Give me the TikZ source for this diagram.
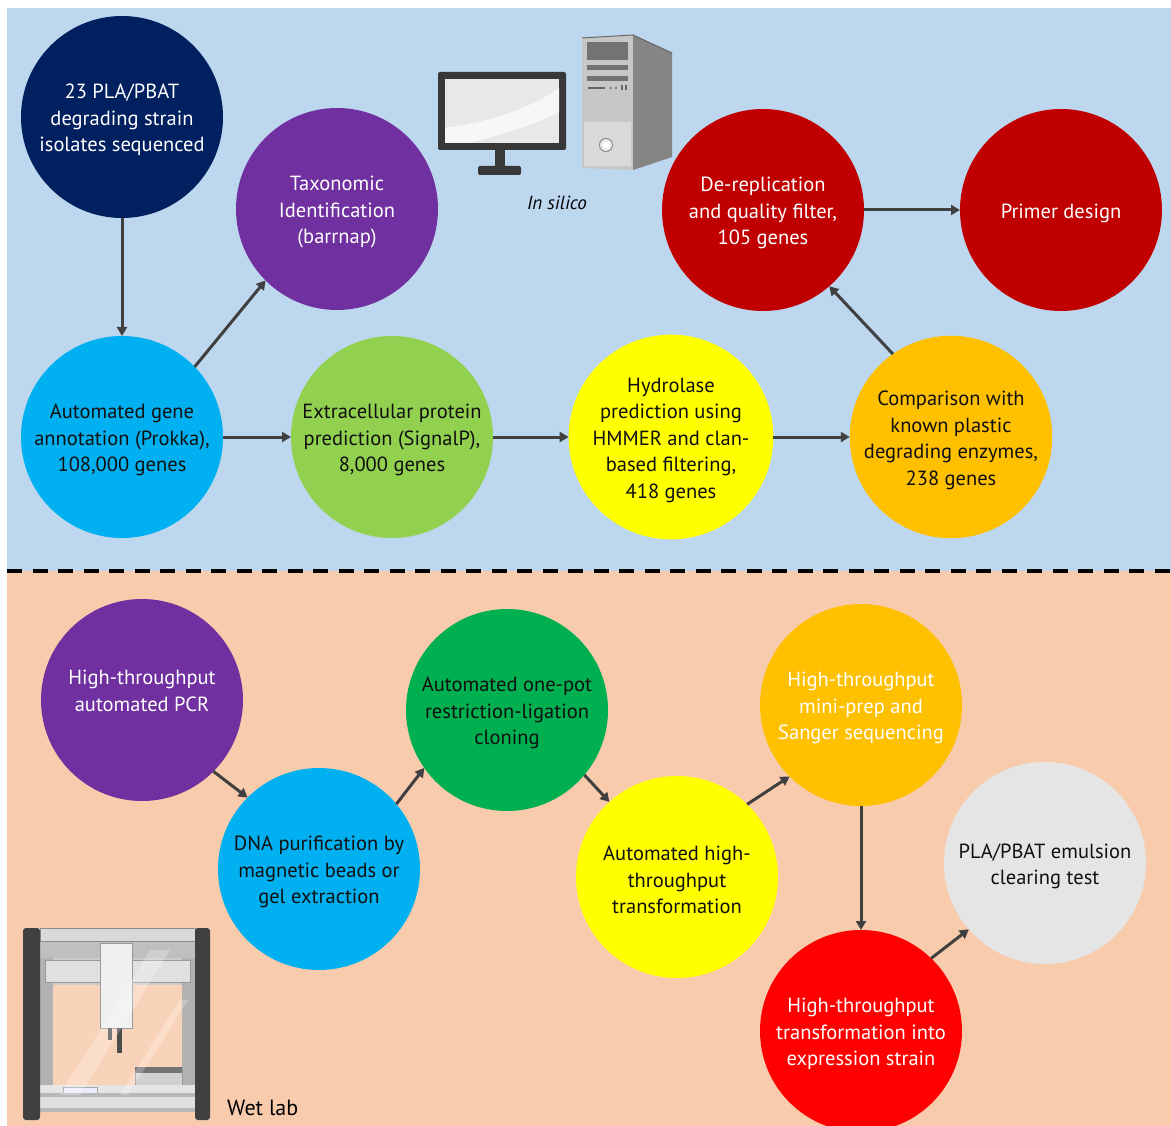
\documentclass[tikz,border=0pt]{standalone}
\usepackage{fontspec}
\setmainfont{PT Sans}
\usetikzlibrary{arrows.meta}

\definecolor{silicobg}{HTML}{BDD7EE}
\definecolor{wetbg}{HTML}{F8CBAD}
\definecolor{navy}{HTML}{002060}
\definecolor{violet}{HTML}{7030A0}
\definecolor{sky}{HTML}{00B0F0}
\definecolor{lime}{HTML}{92D050}
\definecolor{lemon}{HTML}{FFFF00}
\definecolor{amber}{HTML}{FFC000}
\definecolor{crimson}{HTML}{C00000}
\definecolor{emerald}{HTML}{00B050}
\definecolor{scarlet}{HTML}{FF0000}
\definecolor{pale}{HTML}{E5E5E5}
\definecolor{arrowc}{HTML}{404040}
\definecolor{ink}{HTML}{101010}

% invisible strut that lowers a centred text block slightly
\newcommand\stagetop{\rule{0pt}{21pt}}

\begin{document}
\begin{tikzpicture}[x=1pt,y=-1pt,
  stage/.style={circle, minimum size=202pt, inner sep=0pt, outer sep=0pt,
                align=center, font=\fontsize{20.5}{26.5}\selectfont, text=ink},
  caption/.style={align=center, inner sep=0pt, font=\fontsize{20.5}{26.5}\selectfont},
  flow/.style={draw=arrowc, line width=3pt, -{Triangle[length=9pt,width=10pt]}},
  divider/.style={draw=black, line width=4pt, dash pattern=on 15pt off 10.5pt},
]
\useasboundingbox (0,0) rectangle (1171,1126);
\clip (0,0) rectangle (1171,1126);

% background panels
\fill[white] (0,0) rectangle (1171,1126);
\fill[silicobg] (7,8) rectangle (1171,571);
\fill[wetbg] (7,571) rectangle (1171,1126);
\draw[divider] (7,571) -- (1171,571);

% ---------- computer ----------
\fill[black!78, rounded corners=2pt] (438,72) rectangle (566,150);
\fill[black!9] (445,79) rectangle (559,143);
\fill[white!97!black] (445,143) -- (445,128) .. controls (500,120) and (535,105) .. (559,88)
      -- (559,112) .. controls (535,125) and (500,135) .. (470,143) -- cycle;
\fill[black!78] (495,150) rectangle (505,166);
\fill[black!78, rounded corners=2pt] (478,166) rectangle (521,175);
% tower
\fill[black!22] (582,38) -- (633,35) -- (633,170) -- (582,168) -- cycle;
\fill[black!48] (633,35) -- (672,53) -- (672,157) -- (633,170) -- cycle;
\draw[black!60, line width=1pt] (582,38) -- (633,35) -- (672,53);
\fill[black!55] (587,42) rectangle (628,60);
\fill[black!55] (587,65) rectangle (628,70);
\fill[black!55] (587,76) rectangle (628,81);
\fill[black!60] (588,87.5) rectangle (605,89);
\fill[black!60] (611,88) circle (1.2pt);
\fill[black!60] (616,88) circle (1.2pt);
\fill[black!60] (621,85.5) rectangle (622.5,90.5);
\fill[black!60] (625,85.5) rectangle (626.5,90.5);
\fill[black!15] (584,122) rectangle (631,166);
\filldraw[fill=black!7, draw=black!45, line width=1pt] (606,145) circle (6.5pt);
\fill[white] (606,145) circle (3pt);
\node[caption, font=\fontsize{19}{26.5}\selectfont\itshape] (silico) at (557,203) {In silico};

% ---------- liquid-handling robot ----------
\fill[black!20] (40,940) rectangle (195,1095);
\fill[wetbg!85!white] (53,985) rectangle (182,1085);
\fill[black!30] (40,940) rectangle (53,1095);
\fill[black!30] (182,940) rectangle (195,1095);
\fill[black!25] (40,942) rectangle (195,958);
\fill[black!12] (45,960) rectangle (190,982);
\draw[black!40, line width=0.8pt] (45,960) rectangle (190,982);
\fill[black!18, draw=black!40, line width=0.8pt] (135,1067) rectangle (182,1093);
\fill[black!55] (135,1067) rectangle (182,1073);
\fill[black!10] (40,1085) rectangle (195,1093);
\fill[blue!8!white, draw=black!35, line width=0.6pt] (63,1087) rectangle (97,1100);
\fill[black!55] (100,1093) rectangle (133,1098);
\fill[black!28] (40,1093) rectangle (195,1112);
\fill[black!12] (40,1097) rectangle (195,1108);
\fill[black!6, draw=black!40, line width=0.8pt] (100,943) rectangle (132,1028);
\fill[black!70] (108,1028) rectangle (112,1040);
\fill[black!70] (117,1028) rectangle (122,1053);
\fill[black!15, draw=black!45, line width=0.8pt] (40,928) rectangle (195,941);
\fill[black!75, rounded corners=3pt] (23,928) rectangle (40,1120);
\fill[black!75, rounded corners=3pt] (195,928) rectangle (210,1120);
\fill[white, opacity=0.25] (60,1095) -- (150,950) -- (170,950) -- (80,1095) -- cycle;
\fill[white, opacity=0.25] (120,1095) -- (180,1000) -- (188,1000) -- (128,1095) -- cycle;
\node[caption, anchor=west, font=\fontsize{22}{26.5}\selectfont] (wetlab) at (227,1108) {Wet lab};

% ---------- in silico pipeline ----------
\node[stage, fill=navy, text=white] (seqd) at (122,117)
  {\stagetop 23 PLA/PBAT\\degrading strain\\isolates sequenced};
\node[stage, fill=violet, text=white] (tax) at (337,209)
  {\stagetop Taxonomic\\Identification\\(barrnap)};
\node[stage, fill=sky] (annot) at (122,437)
  {\stagetop Automated gene\\annotation (Prokka),\\108,000 genes};
\node[stage, fill=lime] (signal) at (392,437)
  {\stagetop Extracellular protein\\prediction (SignalP),\\8,000 genes};
\node[stage, fill=lemon] (hydro) at (671,437)
  {\stagetop Hydrolase\\prediction using\\HMMER and clan-\\based filtering,\\418 genes};
\node[stage, fill=amber] (known) at (951,437)
  {\stagetop Comparison with\\known plastic\\degrading enzymes,\\238 genes};
\node[stage, fill=crimson, text=white] (derep) at (763,210)
  {\stagetop De-replication\\and quality filter,\\105 genes};
\node[stage, fill=crimson, text=white] (primer) at (1061,210) {\stagetop Primer design};

\draw[flow] (seqd) -- (annot);
\draw[flow] (annot.44) -- (tax.225);
\draw[flow] (annot) -- (signal);
\draw[flow] (signal) -- (hydro);
\draw[flow] (hydro) -- (known);
\draw[flow] (known.125) -- (derep.-49);
\draw[flow] (derep) -- (primer);

% ---------- wet lab pipeline ----------
\node[stage, fill=violet] (pcr) at (142,700) {};
\node[caption, text=white] (pcrtext) at (142,691) {High-throughput\\automated PCR};
\node[stage, fill=sky] (purif) at (319,869)
  {\stagetop DNA purification by\\magnetic beads or\\gel extraction};
\node[stage, fill=emerald] (clone) at (507,710)
  {\stagetop Automated one-pot\\restriction-ligation\\cloning};
\node[stage, fill=lemon] (transf) at (677,877)
  {\stagetop Automated high-\\throughput\\transformation};
\node[stage, fill=amber, text=white] (prep) at (861,705)
  {\stagetop High-throughput\\mini-prep and\\Sanger sequencing};
\node[stage, fill=pale] (clear) at (1045,863)
  {\stagetop PLA/PBAT emulsion\\clearing test};
\node[stage, fill=scarlet, text=white] (expr) at (861,1031)
  {\stagetop High-throughput\\transformation into\\expression strain};

\draw[flow] (pcr.-45) -- (purif.135);
\draw[flow] (purif.40) -- (clone.215);
\draw[flow] (clone.-40) -- (transf.132);
\draw[flow] (transf.46) -- (prep.225);
\draw[flow] (prep) -- (expr);
\draw[flow] (expr.46) -- (clear.221);
\end{tikzpicture}
\end{document}
